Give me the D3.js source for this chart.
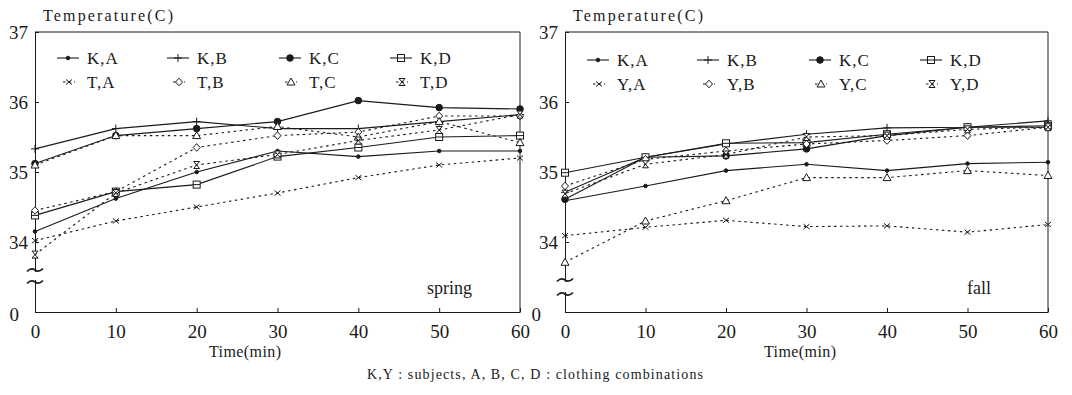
<!DOCTYPE html>
<html><head><meta charset="utf-8">
<script src="https://cdn.jsdelivr.net/npm/d3@7"></script>
<style>
html,body{margin:0;padding:0;background:#fff;}
svg{display:block;font-family:"Liberation Serif","DejaVu Serif",serif;}
</style></head><body>
<svg id="c" width="1072" height="395"></svg>
<script>
// ---------------- data ----------------
const times = [0, 10, 20, 30, 40, 50, 60];
const xTickLabels = ["0", "10", "20", "30", "40", "50", "60"];
const yTickValues = [33, 34, 35, 36, 37];
const yTickLabels = ["0", "34", "35", "36", "37"];

const springNames = ["K,A", "K,B", "K,C", "K,D", "T,A", "T,B", "T,C", "T,D"];
const spring_KA = [34.15, 34.62, 35.00, 35.30, 35.22, 35.30, 35.30];
const spring_KB = [35.33, 35.62, 35.72, 35.62, 35.62, 35.72, 35.82];
const spring_KC = [35.12, 35.52, 35.62, 35.72, 36.02, 35.92, 35.90];
const spring_KD = [34.38, 34.72, 34.82, 35.22, 35.35, 35.50, 35.52];
const spring_TA = [34.02, 34.30, 34.50, 34.70, 34.92, 35.10, 35.20];
const spring_TB = [34.45, 34.72, 35.35, 35.52, 35.57, 35.80, 35.80];
const spring_TC = [35.10, 35.52, 35.52, 35.65, 35.50, 35.72, 35.42];
const spring_TD = [33.82, 34.70, 35.10, 35.25, 35.45, 35.60, 35.82];

const fallNames = ["K,A", "K,B", "K,C", "K,D", "Y,A", "Y,B", "Y,C", "Y,D"];
const fall_KA = [34.59, 34.80, 35.02, 35.11, 35.02, 35.12, 35.14];
const fall_KB = [34.71, 35.21, 35.40, 35.54, 35.63, 35.64, 35.73];
const fall_KC = [34.61, 35.21, 35.23, 35.33, 35.52, 35.64, 35.64];
const fall_KD = [34.99, 35.21, 35.41, 35.42, 35.54, 35.64, 35.66];
const fall_YA = [34.09, 34.21, 34.31, 34.22, 34.23, 34.14, 34.25];
const fall_YB = [34.80, 35.18, 35.30, 35.40, 35.45, 35.52, 35.64];
const fall_YC = [33.71, 34.30, 34.59, 34.92, 34.92, 35.02, 34.95];
const fall_YD = [34.69, 35.11, 35.25, 35.50, 35.52, 35.61, 35.64];

const springValues = [spring_KA, spring_KB, spring_KC, spring_KD, spring_TA, spring_TB, spring_TC, spring_TD];
const fallValues = [fall_KA, fall_KB, fall_KC, fall_KD, fall_YA, fall_YB, fall_YC, fall_YD];

// ---------------- style ----------------
const INK = "#1a1a1a";
const markerKinds = ["dot", "plus", "filled", "squareBar", "cross", "diamond", "triangle", "hourglass"];
const svg = d3.select("#c");

function drawMarker(g, kind) {
  const s = {stroke: INK, "stroke-width": 1};
  let m;
  switch (kind) {
    case "dot": m = g.append("circle").attr("r", 1.8).attr("fill", INK); break;
    case "plus": m = g.append("path").attr("d", "M-4,0H4M0,-4V4").attr("fill", "none"); break;
    case "filled": m = g.append("circle").attr("r", 3.3).attr("fill", INK); break;
    case "squareBar":
      g.append("rect").attr("x", -3.5).attr("y", -3.5).attr("width", 7).attr("height", 7).attr("fill", "#fff").attr("stroke", INK);
      m = g.append("path").attr("d", "M-3.5,0H3.5").attr("fill", "none"); break;
    case "cross": m = g.append("path").attr("d", "M-3,-2.5L3,2.5M-3,2.5L3,-2.5").attr("fill", "none"); break;
    case "diamond": m = g.append("path").attr("d", "M0,-3.8L3.5,0L0,3.8L-3.5,0Z").attr("fill", "#fff"); break;
    case "triangle": m = g.append("path").attr("d", "M0,-4L4,3H-4Z").attr("fill", "#fff"); break;
    case "hourglass": m = g.append("path").attr("d", "M-3,-3.5H3L-3,3.5H3Z").attr("fill", "#fff"); break;
  }
  m.attr("stroke", s.stroke).attr("stroke-width", s["stroke-width"]);
}

function panel(cfg) {
  const x = d3.scaleLinear().domain([0, 60]).range([cfg.x0, cfg.x1]);
  const y = d3.scaleLinear().domain([33, 37]).range([312, 32]);
  const g = svg.append("g");

  // frame: top & right borders
  g.append("path")
    .attr("d", `M${x(0)},${y(37)}H${x(60)}V${y(33)}`)
    .attr("fill", "none").attr("stroke", INK).attr("stroke-width", 1);

  // bottom axis
  const xa = g.append("g").attr("transform", `translate(0,${y(33)})`)
    .call(d3.axisBottom(x).tickValues(times).tickSize(-4).tickSizeOuter(0).tickPadding(13)
      .tickFormat((d, i) => xTickLabels[i]));
  xa.selectAll("text").attr("font-size", 19).attr("fill", INK).attr("font-family", "Liberation Serif");
  xa.selectAll("line,path").attr("stroke", INK);

  // left axis
  const ya = g.append("g").attr("transform", `translate(${x(0)},0)`)
    .call(d3.axisLeft(y).tickValues(yTickValues).tickSize(-4).tickSizeOuter(0).tickPadding(7)
      .tickFormat((d, i) => yTickLabels[i]));
  ya.selectAll("text").attr("font-size", 19).attr("fill", INK).attr("font-family", "Liberation Serif")
    .attr("x", d => d === 33 ? -cfg.zeroGap : -7)
    .attr("dy", d => d === 33 ? "0.45em" : "0.32em");
  ya.selectAll("line,path").attr("stroke", INK);

  // axis break
  g.append("rect").attr("x", x(0) - 2).attr("y", cfg.brk[0] + 2).attr("width", 4).attr("height", cfg.brk[1] - cfg.brk[0] - 4).attr("fill", "#fff");
  cfg.brk.forEach(by => {
    g.append("path").attr("transform", `translate(${x(0)},${by})`)
      .attr("d", "M-8,1.5Q-4,-3 0,0T8,-1.5").attr("fill", "none").attr("stroke", INK).attr("stroke-width", 1.6);
  });

  // series
  const line = d3.line().x((d, i) => x(times[i])).y(d => y(d));
  cfg.values.forEach((vals, si) => {
    g.append("path").datum(vals).attr("d", line)
      .attr("fill", "none").attr("stroke", INK).attr("stroke-width", si < 4 ? 1.1 : 1.1)
      .attr("stroke-dasharray", si < 4 ? null : "2.5,3.5");
  });
  cfg.values.forEach((vals, si) => {
    vals.forEach((v, i) => {
      const mg = g.append("g").attr("transform", `translate(${x(times[i])},${y(v)})`);
      drawMarker(mg, markerKinds[si]);
    });
  });

  // legend
  const colOff = [52, 162, 274, 385];
  cfg.names.forEach((name, si) => {
    const tx = x(0) + colOff[si % 4];
    const ty = cfg.legRows[Math.floor(si / 4)];
    const solid = si < 4;
    g.append("path").attr("d", `M${tx - (solid ? 30 : 24)},${ty - 6}H${tx - (solid ? 8 : 12)}`)
      .attr("stroke", INK).attr("stroke-width", 1.1).attr("fill", "none")
      .attr("stroke-dasharray", solid ? null : "2.5,3");
    const mg = g.append("g").attr("transform", `translate(${tx - (solid ? 19 : 18)},${ty - 6})`);
    drawMarker(mg, markerKinds[si]);
    g.append("text").attr("x", tx).attr("y", ty).attr("font-size", 17).attr("fill", INK)
      .attr("letter-spacing", 1).text(name);
  });

  // labels
  g.append("text").attr("x", x(0) + 8).attr("y", 21).attr("font-size", 16).attr("fill", INK)
    .attr("textLength", 130).attr("lengthAdjust", "spacing").text("Temperature(C)");
  g.append("text").attr("x", cfg.timeX).attr("y", 357).attr("text-anchor", "middle").attr("font-size", 16)
    .attr("fill", INK).attr("textLength", 72).attr("lengthAdjust", "spacing").text("Time(min)");
  g.append("text").attr("x", cfg.seasonX).attr("y", 294).attr("font-size", 18).attr("fill", INK)
    .text(cfg.season);
}

panel({x0: 35, x1: 520, names: springNames, values: springValues, legRows: [64, 88],
  brk: [270, 282], zeroGap: 16, timeX: 245, season: "spring", seasonX: 427});
panel({x0: 565, x1: 1048, names: fallNames, values: fallValues, legRows: [66, 90],
  brk: [280, 294], zeroGap: 24, timeX: 800, season: "fall", seasonX: 967});

svg.append("text").attr("x", 367).attr("y", 379).attr("font-size", 14).attr("fill", INK)
  .attr("textLength", 336).attr("lengthAdjust", "spacing")
  .text("K,Y  :  subjects,  A,  B,  C,  D  :  clothing  combinations");
</script>
</body></html>
